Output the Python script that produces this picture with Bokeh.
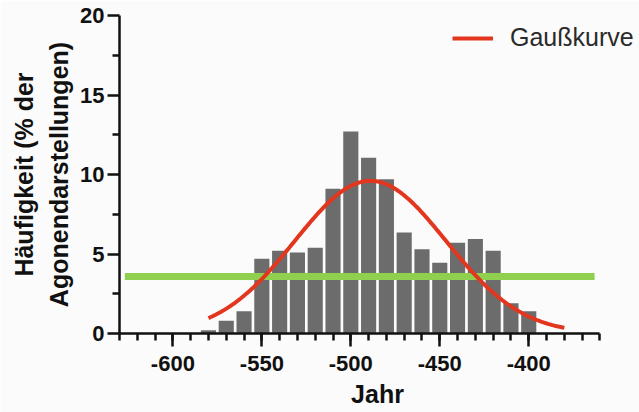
import numpy as np
from bokeh.plotting import figure
from bokeh.models import FixedTicker, Legend, LegendItem, Range1d, Title
from bokeh.embed import file_html
from bokeh.resources import INLINE

# ---- data ----
bin_centers = [-580, -570, -560, -550, -540, -530, -520, -510, -500, -490,
               -480, -470, -460, -450, -440, -430, -420, -410, -400]
bin_values = [0.2, 0.8, 1.4, 4.7, 5.2, 5.1, 5.4, 9.1, 12.7, 11.05,
              9.7, 6.35, 5.3, 4.45, 5.7, 5.95, 5.2, 1.9, 1.4]

# fitted Gaussian (parameters)
gauss_mean = -489.0
gauss_sd = 42.5
gauss_peak = 9.6
gauss_from = -580
gauss_to = -380

# green reference level
level_x = [-627, -363]
level_y = [3.58, 3.58]

x_axis_span = (-630, -360)
x_major = [-600, -550, -500, -450, -400]
x_labels = ["-600", "-550", "-500", "-450", "-400"]
x_minor = list(range(-630, -359, 10))
y_major = [0, 5, 10, 15, 20]
y_labels = ["0", "5", "10", "15", "20"]
y_minor = [2.5, 7.5, 12.5, 17.5]

ylabel_1 = "Häufigkeit (% der"
ylabel_2 = "Agonendarstellungen)"
xlabel = "Jahr"
legend_text = "Gaußkurve"

BG = "#fbfbfb"
FONT = "Liberation Sans"
INK = "#111111"

p = figure(width=639, height=412, output_backend="svg", toolbar_location=None,
           x_range=Range1d(-630, -340), y_range=Range1d(0, 20),
           min_border_left=119, min_border_right=4,
           min_border_top=15, min_border_bottom=79)
p.background_fill_color = BG
p.border_fill_color = BG
p.outline_line_color = None
p.xgrid.visible = False
p.ygrid.visible = False

p.vbar(x=bin_centers, top=bin_values, width=8.5, bottom=0,
       fill_color="#6c6c6c", line_color=None)

p.line(level_x, level_y, line_color="#8fd14f", line_width=7)

gx = np.linspace(gauss_from, gauss_to, 300)
gy = gauss_peak * np.exp(-((gx - gauss_mean) ** 2) / (2 * gauss_sd ** 2))
curve = p.line(gx, gy, line_color="#e2361f", line_width=4)

for ax in (p.xaxis[0], p.yaxis[0]):
    ax.axis_line_width = 2.5
    ax.axis_line_color = INK
    ax.major_tick_line_width = 2.5
    ax.minor_tick_line_width = 2.5
    ax.major_tick_line_color = INK
    ax.minor_tick_line_color = INK
    ax.major_tick_in = 0
    ax.minor_tick_in = 0
    ax.major_label_text_font = FONT
    ax.major_label_text_font_style = "bold"
    ax.major_label_text_font_size = "22px"
    ax.major_label_text_color = INK

p.xaxis.bounds = x_axis_span
p.xaxis.ticker = FixedTicker(ticks=x_major, minor_ticks=x_minor)
p.xaxis.major_label_overrides = {t: s for t, s in zip(x_major, x_labels)}
p.xaxis.major_tick_out = 13
p.xaxis.minor_tick_out = 7
p.xaxis.major_label_standoff = 9

p.yaxis.ticker = FixedTicker(ticks=y_major, minor_ticks=y_minor)
p.yaxis.major_label_overrides = {t: s for t, s in zip(y_major, y_labels)}
p.yaxis.major_tick_out = 12
p.yaxis.minor_tick_out = 7
p.yaxis.major_label_standoff = 3

# axis titles (side panels, so they are not clipped)
t2 = Title(text=ylabel_2, align="center", offset=8, standoff=9,
           text_font=FONT, text_font_style="bold", text_font_size="25px",
           text_color=INK)
t1 = Title(text=ylabel_1, align="center", offset=8, standoff=2,
           text_font=FONT, text_font_style="bold", text_font_size="25px",
           text_color=INK)
p.add_layout(t2, "left")
p.add_layout(t1, "left")

tx = Title(text=xlabel, align="center", offset=-17.5, standoff=8,
           text_font=FONT, text_font_style="bold", text_font_size="25px",
           text_color=INK)
p.add_layout(tx, "below")

legend = Legend(items=[LegendItem(label=legend_text, renderers=[curve])],
                location=(333, 281), margin=0, padding=0,
                glyph_width=41, glyph_height=20, label_standoff=17,
                label_text_font=FONT, label_text_font_size="25px",
                label_text_color="#2a2a2a",
                border_line_color=None, background_fill_alpha=0)
p.add_layout(legend)

open("out.html", "w").write(file_html(p, INLINE))
